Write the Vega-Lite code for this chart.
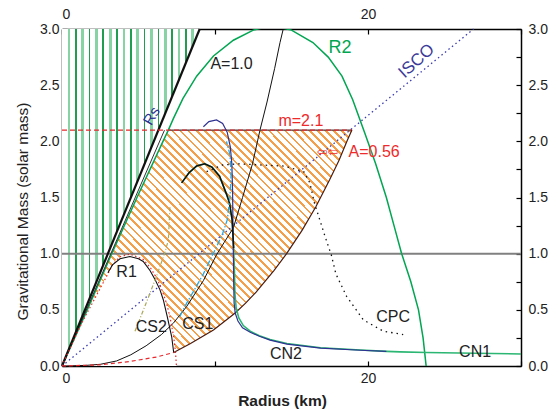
{
"$schema": "https://vega.github.io/schema/vega-lite/v6.json",
"width": 459, "height": 337,
"autosize": {"type": "none"},
"padding": {"left": 62, "top": 29, "right": 37, "bottom": 44},
"background": "white",
"config": {
 "view": {"stroke": null},
 "axis": {"grid": false, "domainColor": "#000", "domainWidth": 1.5, "tickColor": "#000", "tickWidth": 1.2, "tickSize": -5, "labelFont": "Liberation Sans", "labelFontSize": 14, "labelColor": "#222", "titleFont": "Liberation Sans", "titleFontSize": 15.5, "titleColor": "#222", "labelPadding": 8}
},
"resolve": {"axis": {"x": "independent", "y": "independent"}},
"datasets": {
 "greenArea": [{"x": 0, "lo": 0, "hi": 3}, {"x": 9, "lo": 3, "hi": 3}],
 "hatch": [{"m":0.12,"l":0.4,"r":7.3},{"m":0.2,"l":0.66,"r":8.4},{"m":0.32,"l":1.04,"r":9.9},{"m":0.47,"l":1.53,"r":11.3},{"m":0.56,"l":1.82,"r":12.0},{"m":0.66,"l":2.15,"r":12.7},{"m":0.85,"l":2.76,"r":13.85},{"m":1.0,"l":3.25,"r":14.68},{"m":1.21,"l":3.95,"r":15.7},{"m":1.42,"l":4.64,"r":16.6},{"m":1.66,"l":5.45,"r":17.5},{"m":1.83,"l":6.03,"r":18.1},{"m":2.01,"l":6.63,"r":18.65},{"m":2.1,"l":6.98,"r":18.95}],
 "r1white": [{"m":0,"l":0,"r":7.48},{"m":0.12,"l":0.4,"r":7.42},{"m":0.26,"l":0.88,"r":7.3},{"m":0.44,"l":1.48,"r":7.05},{"m":0.55,"l":1.85,"r":6.85},{"m":0.67,"l":2.4,"r":6.55},{"m":0.78,"l":2.85,"r":6.2},{"m":0.87,"l":3.15,"r":5.8},{"m":0.95,"l":3.55,"r":5.3},{"m":0.99,"l":4.2,"r":4.7}],
 "rsThick": [{"x":0,"y":0},{"x":9.0,"y":3.0}],
 "rsThin": [{"x":0,"y":0},{"x":6.7,"y":2.1}],
 "r2": [{"x":0,"y":0},{"x":1.65,"y":0.5},{"x":3.25,"y":1.0},{"x":4.9,"y":1.5},{"x":6.6,"y":2.0},{"x":6.95,"y":2.1},{"x":7.27,"y":2.2},{"x":7.9,"y":2.38},{"x":8.8,"y":2.58},{"x":9.9,"y":2.76},{"x":11.2,"y":2.9},{"x":12.5,"y":2.99},{"x":13.7,"y":3.03},{"x":15.0,"y":2.99},{"x":16.4,"y":2.88},{"x":17.4,"y":2.75},{"x":18.3,"y":2.58},{"x":19.0,"y":2.37},{"x":19.8,"y":2.07},{"x":20.5,"y":1.8},{"x":21.2,"y":1.5},{"x":21.7,"y":1.25},{"x":22.2,"y":1.0},{"x":22.8,"y":0.75},{"x":23.3,"y":0.5},{"x":23.6,"y":0.25},{"x":23.8,"y":0.0}],
 "isco": [{"x":0,"y":0},{"x":26.9,"y":3.0}],
 "a10": [{"x":0,"y":0},{"x":1.5,"y":0.005},{"x":2.5,"y":0.015},{"x":3.57,"y":0.045},{"x":4.5,"y":0.1},{"x":5.5,"y":0.18},{"x":6.5,"y":0.28},{"x":7.27,"y":0.38},{"x":8.15,"y":0.53},{"x":9.24,"y":0.76},{"x":10.1,"y":0.99},{"x":10.6,"y":1.1},{"x":11.2,"y":1.23},{"x":11.8,"y":1.5},{"x":12.45,"y":1.8},{"x":12.94,"y":2.1},{"x":13.4,"y":2.35},{"x":13.9,"y":2.65},{"x":14.25,"y":2.88},{"x":14.46,"y":3.0}],
 "m21": [{"x":0,"y":2.1},{"x":18.95,"y":2.1}],
 "topEdge": [{"x":6.98,"y":2.1},{"x":18.95,"y":2.1}],
 "rightEdge": [{"x":7.3,"y":0.12},{"x":8.4,"y":0.2},{"x":9.9,"y":0.32},{"x":11.3,"y":0.47},{"x":12.0,"y":0.56},{"x":12.7,"y":0.66},{"x":13.85,"y":0.85},{"x":14.68,"y":1.0},{"x":15.7,"y":1.21},{"x":16.6,"y":1.42},{"x":17.5,"y":1.66},{"x":18.1,"y":1.83},{"x":18.65,"y":2.01},{"x":18.95,"y":2.1}],
 "r1Black": [{"x":3.0,"y":0.83},{"x":3.3,"y":0.9},{"x":3.79,"y":0.955},{"x":4.44,"y":0.975},{"x":5.0,"y":0.955},{"x":5.31,"y":0.93},{"x":5.75,"y":0.85},{"x":6.08,"y":0.77},{"x":6.4,"y":0.68},{"x":6.62,"y":0.59},{"x":6.88,"y":0.44},{"x":7.17,"y":0.26},{"x":7.3,"y":0.12}],
 "r1RedDot": [{"x":0,"y":0},{"x":1.28,"y":0.38},{"x":2.92,"y":0.8},{"x":3.3,"y":0.9},{"x":3.8,"y":0.975},{"x":4.44,"y":0.995},{"x":5.3,"y":0.95},{"x":5.8,"y":0.87},{"x":6.2,"y":0.78},{"x":6.55,"y":0.67},{"x":6.85,"y":0.55},{"x":7.05,"y":0.44},{"x":7.3,"y":0.26},{"x":7.42,"y":0.12},{"x":7.48,"y":0.0}],
 "r1RedDash": [{"x":0,"y":0},{"x":2.48,"y":0.01},{"x":4.44,"y":0.04},{"x":6.18,"y":0.08},{"x":7.3,"y":0.12}],
 "cs2": [{"x":4.77,"y":0.31},{"x":5.5,"y":0.56},{"x":6.18,"y":0.8},{"x":6.7,"y":1.0},{"x":6.95,"y":1.12},{"x":7.06,"y":1.43}],
 "cpc": [{"x":9.45,"y":1.73},{"x":10.5,"y":1.79},{"x":11.6,"y":1.8},{"x":12.9,"y":1.79},{"x":14.5,"y":1.78},{"x":15.8,"y":1.73},{"x":16.2,"y":1.63},{"x":16.5,"y":1.45},{"x":17.2,"y":1.15},{"x":17.6,"y":0.99},{"x":17.9,"y":0.82},{"x":18.6,"y":0.62},{"x":19.7,"y":0.41},{"x":21.0,"y":0.31},{"x":22.3,"y":0.28}],
 "cn1": [{"i":0,"x":30,"y":0.107},{"i":1,"x":27,"y":0.113},{"i":2,"x":23.8,"y":0.12},{"i":3,"x":22.1,"y":0.126},{"i":4,"x":21.2,"y":0.13},{"i":5,"x":19.5,"y":0.142},{"i":6,"x":16.9,"y":0.163},{"i":7,"x":14.7,"y":0.2},{"i":8,"x":13.6,"y":0.235},{"i":9,"x":12.9,"y":0.27},{"i":10,"x":12.3,"y":0.31},{"i":11,"x":11.85,"y":0.36},{"i":12,"x":11.55,"y":0.43},{"i":13,"x":11.38,"y":0.52},{"i":14,"x":11.3,"y":0.65},{"i":15,"x":11.27,"y":0.85},{"i":16,"x":11.22,"y":1.05},{"i":17,"x":11.12,"y":1.3},{"i":18,"x":10.95,"y":1.45},{"i":19,"x":10.75,"y":1.53},{"i":20,"x":10.3,"y":1.69},{"i":21,"x":9.8,"y":1.77},{"i":22,"x":9.33,"y":1.8},{"i":23,"x":8.8,"y":1.78},{"i":24,"x":8.3,"y":1.72},{"i":25,"x":7.82,"y":1.63}],
 "cnTop": [{"x":11.22,"y":1.05},{"x":11.12,"y":1.3},{"x":10.95,"y":1.45},{"x":10.75,"y":1.53},{"x":10.3,"y":1.69},{"x":9.8,"y":1.77},{"x":9.33,"y":1.8},{"x":8.8,"y":1.78},{"x":8.3,"y":1.72},{"x":7.82,"y":1.63}],
 "cn2": [{"i":0,"x":9.24,"y":2.13},{"i":1,"x":9.6,"y":2.175},{"i":2,"x":10.1,"y":2.19},{"i":3,"x":10.5,"y":2.16},{"i":4,"x":10.8,"y":2.08},{"i":5,"x":11.0,"y":1.95},{"i":6,"x":11.1,"y":1.8},{"i":7,"x":11.15,"y":1.55},{"i":8,"x":11.17,"y":1.3},{"i":9,"x":11.2,"y":1.0},{"i":10,"x":11.22,"y":0.75},{"i":11,"x":11.25,"y":0.56},{"i":12,"x":11.32,"y":0.47},{"i":13,"x":11.5,"y":0.4},{"i":14,"x":11.8,"y":0.34},{"i":15,"x":12.3,"y":0.3},{"i":16,"x":12.9,"y":0.265},{"i":17,"x":13.6,"y":0.23},{"i":18,"x":14.7,"y":0.195},{"i":19,"x":16.9,"y":0.16},{"i":20,"x":19.5,"y":0.14},{"i":21,"x":21.2,"y":0.13}],
 "cs1": [{"i":0,"x":7.7,"y":0.44},{"i":1,"x":8.15,"y":0.56},{"i":2,"x":8.7,"y":0.69},{"i":3,"x":9.24,"y":0.82},{"i":4,"x":9.7,"y":0.95},{"i":5,"x":10.1,"y":1.06},{"i":6,"x":10.5,"y":1.18},{"i":7,"x":10.8,"y":1.3},{"i":8,"x":10.98,"y":1.5},{"i":9,"x":11.05,"y":1.7},{"i":10,"x":10.98,"y":1.88},{"i":11,"x":10.75,"y":2.0}],
 "mOne": [{"y": 1}],
 "lblBlack": [{"x":11.08,"y":2.684,"t":"A=1.0"},{"x":4.22,"y":0.84,"t":"R1"},{"x":5.84,"y":0.343,"t":"CS2"},{"x":8.88,"y":0.374,"t":"CS1"},{"x":14.64,"y":0.111,"t":"CN2"},{"x":27.0,"y":0.129,"t":"CN1"},{"x":21.64,"y":0.44,"t":"CPC"}],
 "lblRed": [{"x":15.61,"y":2.181,"t":"m=2.1"},{"x":20.4,"y":1.909,"t":"A=0.56"}],
 "lblArrow": [{"x":17.36,"y":1.909,"t":"⇦⇦"}],
 "lblR2": [{"x":18.17,"y":2.835,"t":"R2"}],
 "lblIsco": [{"x":23.18,"y":2.715,"t":"ISCO"}],
 "lblRs": [{"x":5.85,"y":2.227,"t":"Rs"}]
},
"layer": [
 {"data": {"name": "greenArea"},
  "mark": {"type": "area", "fill": {"gradient": "linear", "x1": 0, "y1": 0, "x2": 1, "y2": 0, "stops": [
   {"offset":0,"color":"#fff"},
   {"offset":0.04,"color":"#fff"},{"offset":0.04,"color":"#86d3a4"},{"offset":0.06,"color":"#86d3a4"},{"offset":0.06,"color":"#fff"},
   {"offset":0.094,"color":"#fff"},{"offset":0.094,"color":"#1e9e4e"},{"offset":0.106,"color":"#1e9e4e"},{"offset":0.106,"color":"#fff"},
   {"offset":0.14,"color":"#fff"},{"offset":0.14,"color":"#86d3a4"},{"offset":0.16,"color":"#86d3a4"},{"offset":0.16,"color":"#fff"},
   {"offset":0.194,"color":"#fff"},{"offset":0.194,"color":"#1e9e4e"},{"offset":0.206,"color":"#1e9e4e"},{"offset":0.206,"color":"#fff"},
   {"offset":0.24,"color":"#fff"},{"offset":0.24,"color":"#86d3a4"},{"offset":0.26,"color":"#86d3a4"},{"offset":0.26,"color":"#fff"},
   {"offset":0.294,"color":"#fff"},{"offset":0.294,"color":"#1e9e4e"},{"offset":0.306,"color":"#1e9e4e"},{"offset":0.306,"color":"#fff"},
   {"offset":0.34,"color":"#fff"},{"offset":0.34,"color":"#86d3a4"},{"offset":0.36,"color":"#86d3a4"},{"offset":0.36,"color":"#fff"},
   {"offset":0.394,"color":"#fff"},{"offset":0.394,"color":"#1e9e4e"},{"offset":0.406,"color":"#1e9e4e"},{"offset":0.406,"color":"#fff"},
   {"offset":0.44,"color":"#fff"},{"offset":0.44,"color":"#86d3a4"},{"offset":0.46,"color":"#86d3a4"},{"offset":0.46,"color":"#fff"},
   {"offset":0.494,"color":"#fff"},{"offset":0.494,"color":"#1e9e4e"},{"offset":0.506,"color":"#1e9e4e"},{"offset":0.506,"color":"#fff"},
   {"offset":0.54,"color":"#fff"},{"offset":0.54,"color":"#86d3a4"},{"offset":0.56,"color":"#86d3a4"},{"offset":0.56,"color":"#fff"},
   {"offset":0.594,"color":"#fff"},{"offset":0.594,"color":"#1e9e4e"},{"offset":0.606,"color":"#1e9e4e"},{"offset":0.606,"color":"#fff"},
   {"offset":0.64,"color":"#fff"},{"offset":0.64,"color":"#86d3a4"},{"offset":0.66,"color":"#86d3a4"},{"offset":0.66,"color":"#fff"},
   {"offset":0.694,"color":"#fff"},{"offset":0.694,"color":"#1e9e4e"},{"offset":0.706,"color":"#1e9e4e"},{"offset":0.706,"color":"#fff"},
   {"offset":0.74,"color":"#fff"},{"offset":0.74,"color":"#86d3a4"},{"offset":0.76,"color":"#86d3a4"},{"offset":0.76,"color":"#fff"},
   {"offset":0.794,"color":"#fff"},{"offset":0.794,"color":"#1e9e4e"},{"offset":0.806,"color":"#1e9e4e"},{"offset":0.806,"color":"#fff"},
   {"offset":0.84,"color":"#fff"},{"offset":0.84,"color":"#86d3a4"},{"offset":0.86,"color":"#86d3a4"},{"offset":0.86,"color":"#fff"},
   {"offset":0.894,"color":"#fff"},{"offset":0.894,"color":"#1e9e4e"},{"offset":0.906,"color":"#1e9e4e"},{"offset":0.906,"color":"#fff"},
   {"offset":0.94,"color":"#fff"},{"offset":0.94,"color":"#86d3a4"},{"offset":0.96,"color":"#86d3a4"},{"offset":0.96,"color":"#fff"},
   {"offset":1,"color":"#fff"}]}},
  "encoding": {
   "x": {"field": "x", "type": "quantitative", "scale": {"domain": [0, 30], "nice": false},
    "axis": {"orient": "bottom", "values": [0, 10, 20, 30], "labelExpr": "datum.value==0||datum.value==20 ? datum.label : ''", "title": "Radius (km)", "titleFontWeight": "bold", "titlePadding": 8, "labelPadding": 10, "titleX": 220}},
   "y": {"field": "lo", "type": "quantitative", "scale": {"domain": [0, 3], "nice": false},
    "axis": {"orient": "left", "values": [0,0.25,0.5,0.75,1,1.25,1.5,1.75,2,2.25,2.5,2.75,3], "labelExpr": "(datum.value*4)%2==0 ? format(datum.value,'.1f') : ''", "title": "Gravitational Mass (solar mass)", "titleFontWeight": "normal", "titlePadding": 9, "labelPadding": 8, "titleY": 182}},
   "y2": {"field": "hi"}
  }},
 {"data": {"name": "hatch"},
  "mark": {"type": "area", "orient": "horizontal", "fill": {"gradient": "linear", "x1": 0, "y1": 1, "x2": 1.107, "y2": 0.137, "stops": [
   {"offset":0,"color":"#f4a04a"},{"offset":0.0055,"color":"#f4a04a"},{"offset":0.0055,"color":"#fff"},{"offset":0.016,"color":"#fff"},
   {"offset":0.016,"color":"#f4a04a"},{"offset":0.0215,"color":"#f4a04a"},{"offset":0.0215,"color":"#fff"},{"offset":0.032,"color":"#fff"},
   {"offset":0.032,"color":"#f4a04a"},{"offset":0.0375,"color":"#f4a04a"},{"offset":0.0375,"color":"#fff"},{"offset":0.048,"color":"#fff"},
   {"offset":0.048,"color":"#f4a04a"},{"offset":0.0535,"color":"#f4a04a"},{"offset":0.0535,"color":"#fff"},{"offset":0.064,"color":"#fff"},
   {"offset":0.064,"color":"#f4a04a"},{"offset":0.0695,"color":"#f4a04a"},{"offset":0.0695,"color":"#fff"},{"offset":0.08,"color":"#fff"},
   {"offset":0.08,"color":"#f4a04a"},{"offset":0.0855,"color":"#f4a04a"},{"offset":0.0855,"color":"#fff"},{"offset":0.096,"color":"#fff"},
   {"offset":0.096,"color":"#f4a04a"},{"offset":0.1015,"color":"#f4a04a"},{"offset":0.1015,"color":"#fff"},{"offset":0.112,"color":"#fff"},
   {"offset":0.112,"color":"#f4a04a"},{"offset":0.1175,"color":"#f4a04a"},{"offset":0.1175,"color":"#fff"},{"offset":0.128,"color":"#fff"},
   {"offset":0.128,"color":"#f4a04a"},{"offset":0.1335,"color":"#f4a04a"},{"offset":0.1335,"color":"#fff"},{"offset":0.144,"color":"#fff"},
   {"offset":0.144,"color":"#f4a04a"},{"offset":0.1495,"color":"#f4a04a"},{"offset":0.1495,"color":"#fff"},{"offset":0.16,"color":"#fff"},
   {"offset":0.16,"color":"#f4a04a"},{"offset":0.1655,"color":"#f4a04a"},{"offset":0.1655,"color":"#fff"},{"offset":0.176,"color":"#fff"},
   {"offset":0.176,"color":"#f4a04a"},{"offset":0.1815,"color":"#f4a04a"},{"offset":0.1815,"color":"#fff"},{"offset":0.192,"color":"#fff"},
   {"offset":0.192,"color":"#f4a04a"},{"offset":0.1975,"color":"#f4a04a"},{"offset":0.1975,"color":"#fff"},{"offset":0.208,"color":"#fff"},
   {"offset":0.208,"color":"#f4a04a"},{"offset":0.2135,"color":"#f4a04a"},{"offset":0.2135,"color":"#fff"},{"offset":0.224,"color":"#fff"},
   {"offset":0.224,"color":"#f4a04a"},{"offset":0.2295,"color":"#f4a04a"},{"offset":0.2295,"color":"#fff"},{"offset":0.24,"color":"#fff"},
   {"offset":0.24,"color":"#f4a04a"},{"offset":0.2455,"color":"#f4a04a"},{"offset":0.2455,"color":"#fff"},{"offset":0.256,"color":"#fff"},
   {"offset":0.256,"color":"#f4a04a"},{"offset":0.2615,"color":"#f4a04a"},{"offset":0.2615,"color":"#fff"},{"offset":0.272,"color":"#fff"},
   {"offset":0.272,"color":"#f4a04a"},{"offset":0.2775,"color":"#f4a04a"},{"offset":0.2775,"color":"#fff"},{"offset":0.288,"color":"#fff"},
   {"offset":0.288,"color":"#f4a04a"},{"offset":0.2935,"color":"#f4a04a"},{"offset":0.2935,"color":"#fff"},{"offset":0.304,"color":"#fff"},
   {"offset":0.304,"color":"#f4a04a"},{"offset":0.3095,"color":"#f4a04a"},{"offset":0.3095,"color":"#fff"},{"offset":0.32,"color":"#fff"},
   {"offset":0.32,"color":"#f4a04a"},{"offset":0.3255,"color":"#f4a04a"},{"offset":0.3255,"color":"#fff"},{"offset":0.336,"color":"#fff"},
   {"offset":0.336,"color":"#f4a04a"},{"offset":0.3415,"color":"#f4a04a"},{"offset":0.3415,"color":"#fff"},{"offset":0.352,"color":"#fff"},
   {"offset":0.352,"color":"#f4a04a"},{"offset":0.3575,"color":"#f4a04a"},{"offset":0.3575,"color":"#fff"},{"offset":0.368,"color":"#fff"},
   {"offset":0.368,"color":"#f4a04a"},{"offset":0.3735,"color":"#f4a04a"},{"offset":0.3735,"color":"#fff"},{"offset":0.384,"color":"#fff"},
   {"offset":0.384,"color":"#f4a04a"},{"offset":0.3895,"color":"#f4a04a"},{"offset":0.3895,"color":"#fff"},{"offset":0.4,"color":"#fff"},
   {"offset":0.4,"color":"#f4a04a"},{"offset":0.4055,"color":"#f4a04a"},{"offset":0.4055,"color":"#fff"},{"offset":0.416,"color":"#fff"},
   {"offset":0.416,"color":"#f4a04a"},{"offset":0.4215,"color":"#f4a04a"},{"offset":0.4215,"color":"#fff"},{"offset":0.432,"color":"#fff"},
   {"offset":0.432,"color":"#f4a04a"},{"offset":0.4375,"color":"#f4a04a"},{"offset":0.4375,"color":"#fff"},{"offset":0.448,"color":"#fff"},
   {"offset":0.448,"color":"#f4a04a"},{"offset":0.4535,"color":"#f4a04a"},{"offset":0.4535,"color":"#fff"},{"offset":0.464,"color":"#fff"},
   {"offset":0.464,"color":"#f4a04a"},{"offset":0.4695,"color":"#f4a04a"},{"offset":0.4695,"color":"#fff"},{"offset":0.48,"color":"#fff"},
   {"offset":0.48,"color":"#f4a04a"},{"offset":0.4855,"color":"#f4a04a"},{"offset":0.4855,"color":"#fff"},{"offset":0.496,"color":"#fff"},
   {"offset":0.496,"color":"#f4a04a"},{"offset":0.5015,"color":"#f4a04a"},{"offset":0.5015,"color":"#fff"},{"offset":0.512,"color":"#fff"},
   {"offset":0.512,"color":"#f4a04a"},{"offset":0.5175,"color":"#f4a04a"},{"offset":0.5175,"color":"#fff"},{"offset":0.528,"color":"#fff"},
   {"offset":0.528,"color":"#f4a04a"},{"offset":0.5335,"color":"#f4a04a"},{"offset":0.5335,"color":"#fff"},{"offset":0.544,"color":"#fff"},
   {"offset":0.544,"color":"#f4a04a"},{"offset":0.5495,"color":"#f4a04a"},{"offset":0.5495,"color":"#fff"},{"offset":0.56,"color":"#fff"},
   {"offset":0.56,"color":"#f4a04a"},{"offset":0.5655,"color":"#f4a04a"},{"offset":0.5655,"color":"#fff"},{"offset":0.576,"color":"#fff"},
   {"offset":0.576,"color":"#f4a04a"},{"offset":0.5815,"color":"#f4a04a"},{"offset":0.5815,"color":"#fff"},{"offset":0.592,"color":"#fff"},
   {"offset":0.592,"color":"#f4a04a"},{"offset":0.5975,"color":"#f4a04a"},{"offset":0.5975,"color":"#fff"},{"offset":0.608,"color":"#fff"},
   {"offset":0.608,"color":"#f4a04a"},{"offset":0.6135,"color":"#f4a04a"},{"offset":0.6135,"color":"#fff"},{"offset":0.624,"color":"#fff"},
   {"offset":0.624,"color":"#f4a04a"},{"offset":0.6295,"color":"#f4a04a"},{"offset":0.6295,"color":"#fff"},{"offset":0.64,"color":"#fff"},
   {"offset":0.64,"color":"#f4a04a"},{"offset":0.6455,"color":"#f4a04a"},{"offset":0.6455,"color":"#fff"},{"offset":0.656,"color":"#fff"},
   {"offset":0.656,"color":"#f4a04a"},{"offset":0.6615,"color":"#f4a04a"},{"offset":0.6615,"color":"#fff"},{"offset":0.672,"color":"#fff"},
   {"offset":0.672,"color":"#f4a04a"},{"offset":0.6775,"color":"#f4a04a"},{"offset":0.6775,"color":"#fff"},{"offset":0.688,"color":"#fff"},
   {"offset":0.688,"color":"#f4a04a"},{"offset":0.6935,"color":"#f4a04a"},{"offset":0.6935,"color":"#fff"},{"offset":0.704,"color":"#fff"},
   {"offset":0.704,"color":"#f4a04a"},{"offset":0.7095,"color":"#f4a04a"},{"offset":0.7095,"color":"#fff"},{"offset":0.72,"color":"#fff"},
   {"offset":0.72,"color":"#f4a04a"},{"offset":0.7255,"color":"#f4a04a"},{"offset":0.7255,"color":"#fff"},{"offset":0.736,"color":"#fff"},
   {"offset":0.736,"color":"#f4a04a"},{"offset":0.7415,"color":"#f4a04a"},{"offset":0.7415,"color":"#fff"},{"offset":0.752,"color":"#fff"},
   {"offset":0.752,"color":"#f4a04a"},{"offset":0.7575,"color":"#f4a04a"},{"offset":0.7575,"color":"#fff"},{"offset":0.768,"color":"#fff"},
   {"offset":0.768,"color":"#f4a04a"},{"offset":0.7735,"color":"#f4a04a"},{"offset":0.7735,"color":"#fff"},{"offset":0.784,"color":"#fff"},
   {"offset":0.784,"color":"#f4a04a"},{"offset":0.7895,"color":"#f4a04a"},{"offset":0.7895,"color":"#fff"},{"offset":0.8,"color":"#fff"},
   {"offset":0.8,"color":"#f4a04a"},{"offset":0.8055,"color":"#f4a04a"},{"offset":0.8055,"color":"#fff"},{"offset":0.816,"color":"#fff"},
   {"offset":0.816,"color":"#f4a04a"},{"offset":0.8215,"color":"#f4a04a"},{"offset":0.8215,"color":"#fff"},{"offset":0.832,"color":"#fff"},
   {"offset":0.832,"color":"#f4a04a"},{"offset":0.8375,"color":"#f4a04a"},{"offset":0.8375,"color":"#fff"},{"offset":0.848,"color":"#fff"},
   {"offset":0.848,"color":"#f4a04a"},{"offset":0.8535,"color":"#f4a04a"},{"offset":0.8535,"color":"#fff"},{"offset":0.864,"color":"#fff"},
   {"offset":0.864,"color":"#f4a04a"},{"offset":0.8695,"color":"#f4a04a"},{"offset":0.8695,"color":"#fff"},{"offset":0.88,"color":"#fff"},
   {"offset":0.88,"color":"#f4a04a"},{"offset":0.8855,"color":"#f4a04a"},{"offset":0.8855,"color":"#fff"},{"offset":0.896,"color":"#fff"},
   {"offset":0.896,"color":"#f4a04a"},{"offset":0.9015,"color":"#f4a04a"},{"offset":0.9015,"color":"#fff"},{"offset":0.912,"color":"#fff"},
   {"offset":0.912,"color":"#f4a04a"},{"offset":0.9175,"color":"#f4a04a"},{"offset":0.9175,"color":"#fff"},{"offset":0.928,"color":"#fff"},
   {"offset":0.928,"color":"#f4a04a"},{"offset":0.9335,"color":"#f4a04a"},{"offset":0.9335,"color":"#fff"},{"offset":0.944,"color":"#fff"},
   {"offset":0.944,"color":"#f4a04a"},{"offset":0.9495,"color":"#f4a04a"},{"offset":0.9495,"color":"#fff"},{"offset":0.96,"color":"#fff"},
   {"offset":0.96,"color":"#f4a04a"},{"offset":0.9655,"color":"#f4a04a"},{"offset":0.9655,"color":"#fff"},{"offset":0.976,"color":"#fff"},
   {"offset":0.976,"color":"#f4a04a"},{"offset":0.9815,"color":"#f4a04a"},{"offset":0.9815,"color":"#fff"},{"offset":0.992,"color":"#fff"},
   {"offset":0.992,"color":"#f4a04a"},{"offset":0.9975,"color":"#f4a04a"},{"offset":0.9975,"color":"#fff"},{"offset":1,"color":"#fff"}]}},
  "encoding": {
   "y": {"field": "m", "type": "quantitative", "scale": {"domain": [0, 3], "nice": false},
    "axis": {"orient": "right", "values": [0,0.25,0.5,0.75,1,1.25,1.5,1.75,2,2.25,2.5,2.75,3], "labelExpr": "(datum.value*4)%2==0 ? format(datum.value,'.1f') : ''", "title": null, "labelPadding": 12}},
   "x": {"field": "l", "type": "quantitative", "scale": {"domain": [0, 30], "nice": false},
    "axis": {"orient": "top", "values": [0, 10, 20, 30], "labelExpr": "datum.value==0||datum.value==20 ? datum.label : ''", "title": null, "labelPadding": 13}},
   "x2": {"field": "r"}
  }},
 {"data": {"name": "r1white"},
  "mark": {"type": "area", "orient": "horizontal", "fill": "#fff"},
  "encoding": {"y": {"field": "m", "type": "quantitative", "axis": null}, "x": {"field": "l", "type": "quantitative", "axis": null}, "x2": {"field": "r"}}},
 {"data": {"name": "mOne"},
  "mark": {"type": "rule", "color": "#808080", "strokeWidth": 2},
  "encoding": {"y": {"field": "y", "type": "quantitative", "axis": null}}},
 {"data": {"name": "r2"},
  "mark": {"type": "line", "color": "#00a651", "strokeWidth": 1.5, "clip": true},
  "encoding": {"x": {"field": "x", "type": "quantitative", "axis": null}, "y": {"field": "y", "type": "quantitative", "axis": null}}},
 {"data": {"name": "rsThin"},
  "mark": {"type": "line", "color": "#333", "strokeWidth": 1},
  "encoding": {"x": {"field": "x", "type": "quantitative", "axis": null}, "y": {"field": "y", "type": "quantitative", "axis": null}}},
 {"data": {"name": "rsThick"},
  "mark": {"type": "line", "color": "#111", "strokeWidth": 2.2},
  "encoding": {"x": {"field": "x", "type": "quantitative", "axis": null}, "y": {"field": "y", "type": "quantitative", "axis": null}}},
 {"data": {"name": "isco"},
  "mark": {"type": "line", "color": "#3b3bb0", "strokeWidth": 1.3, "strokeDash": [1.5, 3]},
  "encoding": {"x": {"field": "x", "type": "quantitative", "axis": null}, "y": {"field": "y", "type": "quantitative", "axis": null}}},
 {"data": {"name": "a10"},
  "mark": {"type": "line", "color": "#111", "strokeWidth": 1},
  "encoding": {"x": {"field": "x", "type": "quantitative", "axis": null}, "y": {"field": "y", "type": "quantitative", "axis": null}}},
 {"data": {"name": "topEdge"},
  "mark": {"type": "line", "color": "#444", "strokeWidth": 1.2},
  "encoding": {"x": {"field": "x", "type": "quantitative", "axis": null}, "y": {"field": "y", "type": "quantitative", "axis": null}}},
 {"data": {"name": "m21"},
  "mark": {"type": "line", "color": "#e8282d", "strokeWidth": 1.2, "strokeDash": [5, 3]},
  "encoding": {"x": {"field": "x", "type": "quantitative", "axis": null}, "y": {"field": "y", "type": "quantitative", "axis": null}}},
 {"data": {"name": "rightEdge"},
  "mark": {"type": "line", "color": "#4a1c10", "strokeWidth": 1.2},
  "encoding": {"x": {"field": "x", "type": "quantitative", "axis": null}, "y": {"field": "y", "type": "quantitative", "axis": null}}},
 {"data": {"name": "r1RedDot"},
  "mark": {"type": "line", "color": "#e8282d", "strokeWidth": 1.2, "strokeDash": [1.5, 2.5]},
  "encoding": {"x": {"field": "x", "type": "quantitative", "axis": null}, "y": {"field": "y", "type": "quantitative", "axis": null}}},
 {"data": {"name": "r1RedDash"},
  "mark": {"type": "line", "color": "#e8282d", "strokeWidth": 1.2, "strokeDash": [4, 3]},
  "encoding": {"x": {"field": "x", "type": "quantitative", "axis": null}, "y": {"field": "y", "type": "quantitative", "axis": null}}},
 {"data": {"name": "r1Black"},
  "mark": {"type": "line", "color": "#111", "strokeWidth": 1.1},
  "encoding": {"x": {"field": "x", "type": "quantitative", "axis": null}, "y": {"field": "y", "type": "quantitative", "axis": null}}},
 {"data": {"name": "cs2"},
  "mark": {"type": "line", "color": "#a9a95a", "strokeWidth": 1.2, "strokeDash": [4, 2, 1, 2]},
  "encoding": {"x": {"field": "x", "type": "quantitative", "axis": null}, "y": {"field": "y", "type": "quantitative", "axis": null}}},
 {"data": {"name": "cpc"},
  "mark": {"type": "line", "color": "#111", "strokeWidth": 1.3, "strokeDash": [1.5, 4]},
  "encoding": {"x": {"field": "x", "type": "quantitative", "axis": null}, "y": {"field": "y", "type": "quantitative", "axis": null}}},
 {"data": {"name": "cn1"},
  "mark": {"type": "line", "color": "#2bb673", "strokeWidth": 1.6},
  "encoding": {"x": {"field": "x", "type": "quantitative", "axis": null}, "y": {"field": "y", "type": "quantitative", "axis": null}, "order": {"field": "i"}}},
 {"data": {"name": "cn2"},
  "mark": {"type": "line", "color": "#2e3192", "strokeWidth": 1.2},
  "encoding": {"x": {"field": "x", "type": "quantitative", "axis": null}, "y": {"field": "y", "type": "quantitative", "axis": null}, "order": {"field": "i"}}},
 {"data": {"name": "cnTop"},
  "mark": {"type": "line", "color": "#111", "strokeWidth": 1.5},
  "encoding": {"x": {"field": "x", "type": "quantitative", "axis": null}, "y": {"field": "y", "type": "quantitative", "axis": null}}},
 {"data": {"name": "cs1"},
  "mark": {"type": "line", "color": "#27aae1", "strokeWidth": 1.3, "strokeDash": [6, 2, 1.5, 2]},
  "encoding": {"x": {"field": "x", "type": "quantitative", "axis": null}, "y": {"field": "y", "type": "quantitative", "axis": null}, "order": {"field": "i"}}},
 {"data": {"name": "lblBlack"},
  "mark": {"type": "text", "font": "Liberation Sans", "fontSize": 16, "color": "#222", "align": "center", "baseline": "middle"},
  "encoding": {"x": {"field": "x", "type": "quantitative", "axis": null}, "y": {"field": "y", "type": "quantitative", "axis": null}, "text": {"field": "t"}}},
 {"data": {"name": "lblRed"},
  "mark": {"type": "text", "font": "Liberation Sans", "fontSize": 16, "color": "#ee2a2a", "align": "center", "baseline": "middle"},
  "encoding": {"x": {"field": "x", "type": "quantitative", "axis": null}, "y": {"field": "y", "type": "quantitative", "axis": null}, "text": {"field": "t"}}},
 {"data": {"name": "lblArrow"},
  "mark": {"type": "text", "font": "DejaVu Sans", "fontSize": 13, "color": "#ee2a2a", "align": "center", "baseline": "middle"},
  "encoding": {"x": {"field": "x", "type": "quantitative", "axis": null}, "y": {"field": "y", "type": "quantitative", "axis": null}, "text": {"field": "t"}}},
 {"data": {"name": "lblR2"},
  "mark": {"type": "text", "font": "Liberation Sans", "fontSize": 18, "color": "#00a651", "align": "center", "baseline": "middle"},
  "encoding": {"x": {"field": "x", "type": "quantitative", "axis": null}, "y": {"field": "y", "type": "quantitative", "axis": null}, "text": {"field": "t"}}},
 {"data": {"name": "lblIsco"},
  "mark": {"type": "text", "font": "Liberation Sans", "fontSize": 17, "color": "#3b3b9a", "align": "center", "baseline": "middle", "angle": 318},
  "encoding": {"x": {"field": "x", "type": "quantitative", "axis": null}, "y": {"field": "y", "type": "quantitative", "axis": null}, "text": {"field": "t"}}},
 {"data": {"name": "lblRs"},
  "mark": {"type": "text", "font": "Liberation Sans", "fontSize": 15, "color": "#2e3192", "align": "center", "baseline": "middle", "angle": 300},
  "encoding": {"x": {"field": "x", "type": "quantitative", "axis": null}, "y": {"field": "y", "type": "quantitative", "axis": null}, "text": {"field": "t"}}}
]
}
